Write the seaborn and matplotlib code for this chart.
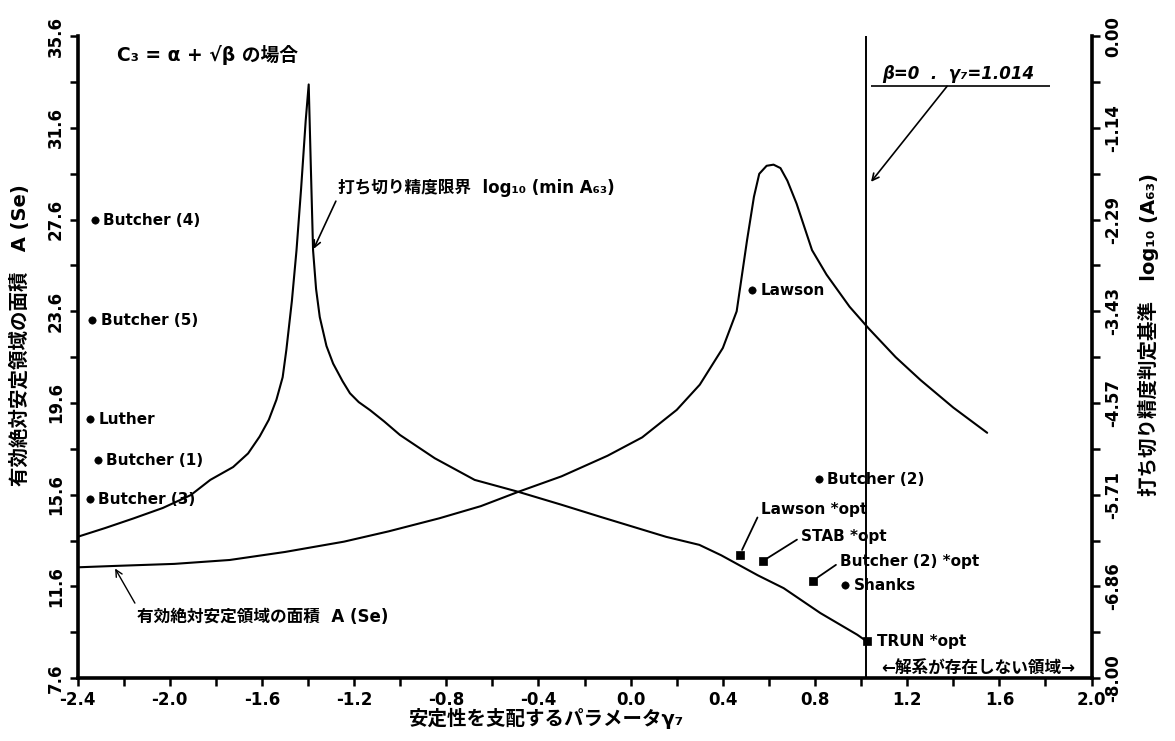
import numpy as np
import pandas as pd
import matplotlib
matplotlib.use("Agg")
import matplotlib.pyplot as plt
import seaborn as sns

# --- values --------------------------------------------------------------
# effective absolute-stability area A(Se)  (left axis)
area_gamma = [-2.4, -2.24, -1.98, -1.74, -1.5, -1.244, -1.05, -0.83, -0.65, -0.486,
              -0.3, -0.1, 0.05, 0.2, 0.3, 0.4, 0.46, 0.505, 0.535, 0.558, 0.59,
              0.62, 0.65, 0.68, 0.72, 0.787, 0.85, 0.95, 1.033, 1.15, 1.258, 1.4, 1.547]
area_value = [12.43, 12.49, 12.58, 12.75, 13.1, 13.55, 14.0, 14.57, 15.1, 15.73,
              16.4, 17.3, 18.1, 19.3, 20.4, 22.0, 23.6, 26.7, 28.6, 29.6, 29.95,
              30.0, 29.85, 29.3, 28.3, 26.27, 25.2, 23.8, 22.85, 21.6, 20.6, 19.4, 18.3]

# truncation accuracy limit log10(min A63)  (right axis)
trunc_gamma = [-2.4, -2.28, -2.157, -2.03, -1.909, -1.824, -1.725, -1.66, -1.61,
               -1.57, -1.537, -1.51, -1.494, -1.47, -1.45, -1.43, -1.41,
               -1.397, -1.388, -1.378, -1.365, -1.349, -1.32, -1.291, -1.25, -1.218,
               -1.18, -1.131, -1.07, -1.001, -0.85, -0.677,
               -0.486, -0.3, -0.132, 0.154, 0.298, 0.393, 0.552, 0.664, 0.823, 0.983, 1.018]
trunc_log = [-6.24, -6.13, -6.01, -5.88, -5.72, -5.53, -5.37, -5.2, -4.99,
             -4.78, -4.53, -4.25, -3.91, -3.3, -2.67, -1.9, -1.05,
             -0.60, -1.6, -2.67, -3.15, -3.50, -3.86, -4.08, -4.3, -4.45,
             -4.56, -4.66, -4.8, -4.97, -5.26, -5.53,
             -5.68, -5.84, -5.99, -6.24, -6.34, -6.47, -6.72, -6.88, -7.19, -7.46, -7.53]

# known methods (dots)
dot_names = ["Butcher (4)", "Butcher (5)", "Luther", "Butcher (1)", "Butcher (3)",
             "Lawson", "Butcher (2)", "Shanks"]
dot_gamma = [-2.326, -2.336, -2.345, -2.312, -2.348, 0.528, 0.816, 0.932]
dot_area = [27.58, 23.21, 18.88, 17.11, 15.39, 24.52, 16.27, 11.64]

# optimised methods (squares)
opt_names = ["Lawson *opt", "STAB *opt", "Butcher (2) *opt", "TRUN *opt"]
opt_gamma = [0.473, 0.573, 0.791, 1.027]
opt_area = [12.97, 12.70, 11.85, 9.2]

beta0_gamma = 1.02

# axis ticks
x_major = [-2.4, -2.0, -1.6, -1.2, -0.8, -0.4, 0.0, 0.4, 0.8, 1.2, 1.6, 2.0]
x_labels = ["-2.4", "-2.0", "-1.6", "-1.2", "-0.8", "-0.4", "0.0", "0.4", "0.8", "1.2", "1.6", "2.0"]
left_major = [35.6, 31.6, 27.6, 23.6, 19.6, 15.6, 11.6, 7.6]
left_labels = ["35.6", "31.6", "27.6", "23.6", "19.6", "15.6", "11.6", "7.6"]
right_major = [0.0, -8 / 7, -16 / 7, -24 / 7, -32 / 7, -40 / 7, -48 / 7, -8.0]
right_labels = ["0.00", "-1.14", "-2.29", "-3.43", "-4.57", "-5.71", "-6.86", "-8.00"]

# --- style ------------------------------------------------------------------
sns.set_theme(style="white")
plt.rcParams['font.family'] = ['DejaVu Sans', 'Noto Sans CJK JP']
plt.rcParams['font.weight'] = 'bold'
plt.rcParams['axes.unicode_minus'] = False

fig, ax = plt.subplots(figsize=(11.75, 7.41), dpi=100)
fig.subplots_adjust(left=0.066, right=0.929, bottom=0.085, top=0.951)
ax2 = ax.twinx()

area_df = pd.DataFrame({"gamma": area_gamma, "area": area_value})
trunc_df = pd.DataFrame({"gamma": trunc_gamma, "logA": trunc_log})
dots = pd.DataFrame({"name": dot_names, "gamma": dot_gamma, "area": dot_area})
opts = pd.DataFrame({"name": opt_names, "gamma": opt_gamma, "area": opt_area})

sns.lineplot(data=area_df, x="gamma", y="area", ax=ax, color="black", lw=1.5,
             estimator=None, sort=False)
sns.lineplot(data=trunc_df, x="gamma", y="logA", ax=ax2, color="black", lw=1.5,
             estimator=None, sort=False)
sns.scatterplot(data=dots, x="gamma", y="area", ax=ax, color="black", s=28,
                marker="o", edgecolor="black", zorder=5)
sns.scatterplot(data=opts, x="gamma", y="area", ax=ax, color="black", s=40,
                marker="s", edgecolor="black", zorder=5)

ax.axvline(beta0_gamma, color="black", lw=1.4)

ax.set_xlim(-2.4, 2.0)
ax.set_ylim(7.6, 35.6)
ax2.set_ylim(-8.0, 0.0)

ax.set_xticks(x_major)
ax.set_xticklabels(x_labels)
ax.set_xticks(np.arange(-2.2, 2.0, 0.4), minor=True)
ax.set_yticks(left_major)
ax.set_yticklabels(left_labels, rotation=90, va="center")
ax.set_yticks(np.arange(9.6, 35.6, 4.0), minor=True)
ax2.set_yticks(right_major)
ax2.set_yticklabels(right_labels, rotation=90, va="center")
ax2.set_yticks([-(2 * k + 1) * 4 / 7 for k in range(7)], minor=True)

ax.set_xlabel("")
ax.set_ylabel("")
ax2.set_ylabel("")

for a in (ax, ax2):
    a.spines["top"].set_visible(False)
    a.grid(False)
ax.spines["right"].set_visible(False)
ax2.spines["left"].set_visible(False)
ax2.spines["bottom"].set_visible(False)
ax.spines["left"].set_linewidth(2.6)
ax.spines["bottom"].set_linewidth(2.6)
ax2.spines["right"].set_linewidth(2.6)
for sp in ("left", "bottom"):
    ax.spines[sp].set_color("black")
ax2.spines["right"].set_color("black")

ax.tick_params(axis="both", which="both", direction="out", length=6, width=1.8,
               color="black", labelsize=12, pad=3, left=True, bottom=True,
               labelcolor="black")
ax2.tick_params(axis="y", which="both", direction="out", length=6, width=1.8,
                color="black", labelsize=12, pad=3, right=True, labelcolor="black")
for lab in ax.get_xticklabels() + ax.get_yticklabels() + ax2.get_yticklabels():
    lab.set_fontweight("bold")

# --- text -------------------------------------------------------------------
fig.text(0.465, 0.031, "安定性を支配するパラメータγ₇", ha="center", va="center",
         fontsize=14, fontweight="bold", color="black")
fig.text(0.017, 0.548, "有効絶対安定領域の面積   A (Se)", ha="center", va="center",
         rotation=90, fontsize=14, fontweight="bold", color="black")
fig.text(0.977, 0.548, "打ち切り精度判定基準   log₁₀ (A₆₃)", ha="center", va="center",
         rotation=90, fontsize=14, fontweight="bold", color="black")

ax.text(-2.23, 34.77, "C₃ = α + √β の場合", ha="left", va="center",
        fontsize=13.5, fontweight="bold", color="black")

for _, r in dots.iterrows():
    ax.annotate(r["name"], (r["gamma"], r["area"]), xytext=(6, 0),
                textcoords="offset points", ha="left", va="center",
                fontsize=11, fontweight="bold", color="black")

opt_text_pos = {"Lawson *opt": (0.567, 14.96), "STAB *opt": (0.741, 13.76),
                "Butcher (2) *opt": (0.910, 12.67)}
for _, r in opts.iterrows():
    if r["name"] in opt_text_pos:
        ax.annotate(r["name"], (r["gamma"], r["area"]), xytext=opt_text_pos[r["name"]],
                    ha="left", va="center", fontsize=11, fontweight="bold", color="black",
                    arrowprops=dict(arrowstyle="-", color="black", lw=1.3,
                                    relpos=(0, 0.5), shrinkA=1, shrinkB=4))
    else:
        ax.annotate(r["name"], (r["gamma"], r["area"]), xytext=(7, 0),
                    textcoords="offset points", ha="left", va="center",
                    fontsize=11, fontweight="bold", color="black")

ax.annotate("打ち切り精度限界  log₁₀ (min A₆₃)", xy=(-1.378, 26.27), xytext=(-1.27, 29.0),
            ha="left", va="center", fontsize=12, fontweight="bold", color="black",
            arrowprops=dict(arrowstyle="->", color="black", lw=1.2,
                            relpos=(0, 0), shrinkA=1, shrinkB=1))
ax.annotate("有効絶対安定領域の面積  A (Se)", xy=(-2.24, 12.43), xytext=(-2.14, 10.28),
            ha="left", va="center", fontsize=12, fontweight="bold", color="black",
            arrowprops=dict(arrowstyle="->", color="black", lw=1.0,
                            relpos=(0, 1), shrinkA=1, shrinkB=1))

ax.hlines(33.42, 1.043, 1.82, color="black", lw=1.2)
ax.text(1.091, 33.55, "β=0  .  γ₇=1.014", ha="left", va="bottom",
        fontsize=12, fontweight="bold", fontstyle="italic", color="black")
ax.annotate("", xy=(1.043, 29.25), xytext=(1.373, 33.42),
            arrowprops=dict(arrowstyle="->", color="black", lw=1.2,
                            shrinkA=0, shrinkB=0))
ax.text(1.51, 8.02, "←解系が存在しない領域→", ha="center", va="center",
        fontsize=12, fontweight="bold", color="black")

fig.savefig("out.png", dpi=100)
